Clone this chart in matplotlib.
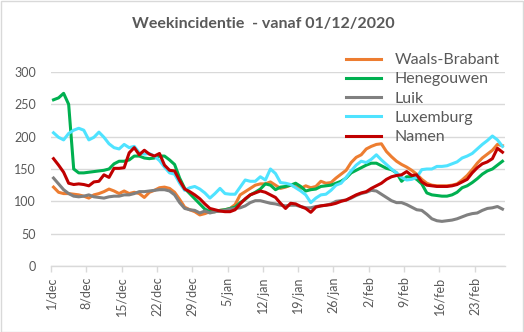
import matplotlib
matplotlib.use("Agg")
import matplotlib.pyplot as plt
from matplotlib.patches import Rectangle
import numpy as np

# ---- data (daily values from 1 Dec 2020 to 28 Feb 2021) ----
series_names = ["Waals-Brabant", "Henegouwen", "Luik", "Luxemburg", "Namen"]

waals_brabant = [122, 114, 112, 112, 111, 110, 108, 105, 110, 112,
                 115, 119, 116, 112, 116, 112, 114, 112, 106, 114,
                 117, 121, 122, 120, 114, 103, 91, 87, 84, 79,
                 81, 84, 84, 86, 87, 89, 95, 110, 115, 120,
                 125, 127, 127, 130, 125, 120, 122, 125, 123, 120,
                 124, 121, 123, 131, 128, 129, 136, 142, 148, 160,
                 168, 172, 181, 185, 188, 189, 177, 169, 162, 157,
                 153, 148, 142, 134, 128, 125, 124, 124, 124, 125,
                 127, 133, 140, 149, 159, 167, 173, 179, 188, 186]

henegouwen = [257, 260, 267, 250, 150, 144, 144, 145, 146, 147,
              148, 150, 158, 162, 162, 164, 170, 170, 167, 166,
              167, 170, 170, 164, 157, 136, 120, 112, 104, 96,
              88, 84, 84, 86, 87, 89, 91, 98, 103, 110,
              114, 119, 127, 125, 118, 122, 123, 125, 128, 123,
              116, 118, 119, 123, 124, 125, 128, 131, 136, 144,
              148, 152, 156, 159, 159, 155, 151, 149, 144, 131,
              138, 138, 134, 127, 113, 110, 109, 108, 108, 110,
              114, 121, 124, 129, 135, 142, 147, 150, 156, 162]

luik = [136, 127, 118, 112, 108, 107, 108, 110, 107, 106,
        105, 107, 108, 108, 110, 110, 112, 115, 115, 116,
        117, 118, 118, 116, 110, 98, 89, 87, 86, 82,
        85, 82, 84, 85, 86, 88, 89, 90, 93, 98,
        101, 101, 99, 97, 96, 94, 93, 94, 94, 92,
        90, 90, 92, 93, 94, 96, 100, 101, 102, 105,
        109, 112, 114, 117, 116, 111, 106, 101, 98, 98,
        95, 91, 87, 86, 80, 73, 70, 69, 70, 71,
        73, 76, 79, 81, 82, 86, 89, 90, 92, 88]

luxemburg = [206, 199, 195, 205, 210, 213, 210, 195, 199, 207,
             199, 189, 183, 181, 188, 183, 185, 175, 173, 174,
             170, 163, 153, 144, 142, 128, 117, 121, 123, 119,
             113, 105, 112, 120, 112, 111, 111, 122, 133, 131,
             131, 138, 133, 150, 143, 129, 128, 126, 121, 116,
             110, 98, 105, 110, 111, 117, 125, 128, 137, 147,
             156, 162, 160, 165, 172, 164, 157, 150, 144, 137,
             133, 134, 137, 149, 150, 150, 154, 154, 155, 158,
             161, 167, 170, 174, 181, 188, 194, 201, 195, 185]

namen = [166, 156, 145, 128, 126, 127, 126, 124, 130, 131,
         141, 137, 151, 151, 152, 175, 183, 172, 179, 173,
         170, 174, 156, 148, 147, 132, 119, 115, 110, 104,
         96, 89, 87, 85, 84, 84, 87, 96, 104, 110,
         113, 116, 114, 110, 106, 97, 89, 97, 96, 92,
         89, 83, 91, 93, 94, 95, 97, 100, 102, 106,
         110, 113, 115, 120, 124, 128, 134, 138, 140, 141,
         146, 140, 141, 130, 125, 124, 123, 123, 123, 124,
         126, 130, 134, 144, 152, 158, 161, 166, 182, 176]

tick_labels = ["1/dec", "8/dec", "15/dec", "22/dec", "29/dec", "5/jan", "12/jan",
               "19/jan", "26/jan", "2/feb", "9/feb", "16/feb", "23/feb"]
y_ticks = [0, 50, 100, 150, 200, 250, 300]

colors = ["#ED7D31", "#00B050", "#808080", "#4FE3FF", "#C00000"]
all_series = [waals_brabant, henegouwen, luik, luxemburg, namen]

# ---- figure ----
W, H = 524, 332
fig = plt.figure(figsize=(W / 100, H / 100), dpi=100)
fig.patches.append(Rectangle((0.5 / W, 0.5 / H), 1 - 1.5 / W, 1 - 1.5 / H,
                             transform=fig.transFigure, fill=False,
                             edgecolor="#D9D9D9", linewidth=1.0))

left, right, top, bottom = 51, 505, 72, 266
ax = fig.add_axes([left / W, 1 - bottom / H, (right - left) / W, (bottom - top) / H])

days = np.arange(len(waals_brabant)) + 0.5
for name, vals, c in zip(series_names, all_series, colors):
    ax.plot(days, vals, color=c, linewidth=2.2, label=name, solid_joinstyle="round")

ax.set_xlim(0, 90)
ax.set_ylim(0, 300)
ax.set_yticks(y_ticks)
ax.set_yticklabels([str(v) for v in y_ticks])
ax.set_xticks(np.arange(0, 85, 7))
ax.set_xticklabels(tick_labels, rotation=90)

for s in ["top", "right", "left"]:
    ax.spines[s].set_visible(False)
ax.spines["bottom"].set_color("#D9D9D9")
ax.spines["bottom"].set_linewidth(1.0)
ax.yaxis.grid(True, color="#D9D9D9", linewidth=1.0)
ax.set_axisbelow(True)

font = "Lato"
ax.tick_params(axis="y", length=0, pad=11, labelsize=9, labelcolor="#595959")
ax.tick_params(axis="x", length=4, width=1, color="#D9D9D9", direction="out",
               pad=3.5, labelsize=9, labelcolor="#595959")
for lab in ax.get_xticklabels() + ax.get_yticklabels():
    lab.set_fontfamily(font)

fig.text(263 / W, 1 - 24 / H, "Weekincidentie  - vanaf 01/12/2020", ha="center", va="center",
         fontsize=11.5, fontweight="bold", color="#595959", fontfamily=font)

leg = ax.legend(loc="upper left", bbox_to_anchor=(346 / W, 1 - 53 / H),
                bbox_transform=fig.transFigure, frameon=False, borderaxespad=0,
                borderpad=0, handlelength=2.2, handletextpad=0.85, labelspacing=0.32,
                prop={"family": font, "size": 11.5})
for t in leg.get_texts():
    t.set_color("#595959")

fig.savefig("out.png", dpi=100)
